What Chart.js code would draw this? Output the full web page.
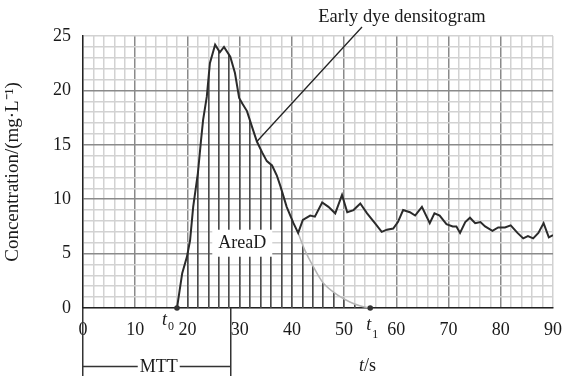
<!DOCTYPE html>
<html>
<head>
<meta charset="utf-8">
<script src="https://cdn.jsdelivr.net/npm/chart.js@4"></script>
<style>
  html, body { margin: 0; padding: 0; background: #fff; }
  #wrap { width: 563px; height: 379px; }
</style>
</head>
<body>
<div id="wrap"><canvas id="chart"></canvas></div>
<script>
// measured densitogram (s, mg/L)
const timeS = [18, 19, 19.9, 20.5, 21.1, 22, 22.6, 23, 23.7, 24.3, 25.3, 26.2, 27, 28.2, 29.1, 29.9,
  30.5, 31.4, 32.4, 33.3, 34.3, 35.2, 36.2, 37.1, 37.8, 39, 40.3, 41.2, 42.1, 43.5, 44.4, 45.8,
  47, 48.3, 49.6, 50.6, 51.8, 53.1, 54.4, 55.9, 57.2, 58.2, 59.4, 60.3, 61.3, 62.6, 63.6, 64.9,
  66.4, 67.3, 68.3, 69.6, 70.8, 71.5, 72.2, 73.2, 74.1, 75.1, 76.1, 77, 78.4, 79.5, 80.8, 81.9,
  83.2, 84.3, 85.2, 86.2, 87.2, 88.2, 89.2, 90];
const conc = [0, 3.2, 4.7, 6.2, 9.3, 12.4, 15.4, 17.3, 19.4, 22.5, 24.2, 23.5, 24.0, 23.1, 21.6, 19.3,
  18.8, 18.1, 16.6, 15.3, 14.3, 13.5, 13.1, 12.2, 11.2, 9.3, 7.8, 6.9, 8.1, 8.5, 8.4, 9.7,
  9.3, 8.7, 10.4, 8.8, 9.0, 9.6, 8.7, 7.8, 7.0, 7.2, 7.3, 7.9, 9.0, 8.8, 8.5, 9.3,
  7.8, 8.7, 8.5, 7.7, 7.5, 7.5, 6.9, 7.9, 8.3, 7.8, 7.9, 7.5, 7.1, 7.4, 7.4, 7.6,
  6.9, 6.4, 6.6, 6.4, 6.9, 7.8, 6.5, 6.7];

// fitted tail of the first pass
const fitTime = [41.2, 42.5, 44.1, 46, 48.7, 51.1, 53, 55];
const fitConc = [6.9, 5.3, 3.8, 2.3, 1.2, 0.55, 0.2, 0];

const markerTime = [18, 55];      // t0, t1
const markerSub = ['0', '1'];
const mttTime = 28.2;
const leaderTime = 33.3;          // curve point the caption points at
const xMajor = [10, 20, 30, 40, 50, 60, 70, 80];
const yMajor = [5, 10, 15, 20];

const SERIF = '"Liberation Serif", "Times New Roman", serif';
const INK = '#1a1a1a';

function align(chart, px, w) {
  const r = chart.currentDevicePixelRatio;
  const h = w / 2;
  return Math.round((px - h) * r) / r + h;
}

function subLabel(ctx, x, y, main, sub, subDy) {
  ctx.textAlign = 'left';
  ctx.textBaseline = 'alphabetic';
  ctx.font = 'italic 18px ' + SERIF;
  ctx.fillText(main, x, y);
  const w = ctx.measureText(main).width;
  ctx.font = '12px ' + SERIF;
  ctx.fillText(sub, x + w + 1, y + subDy);
}

const extras = {
  id: 'extras',
  beforeDatasetsDraw(chart) {
    const { ctx, chartArea, scales: { x, y } } = chart;
    const curve = chart.getDatasetMeta(0).data;
    const tail = chart.getDatasetMeta(1).data;
    const y0 = y.getPixelForValue(0);
    ctx.save();
    ctx.beginPath();
    ctx.moveTo(curve[0].x, y0);
    curve.forEach((p, i) => { if (timeS[i] <= fitTime[0]) ctx.lineTo(p.x, p.y); });
    tail.forEach(p => ctx.lineTo(p.x, p.y));
    ctx.lineTo(tail[tail.length - 1].x, y0);
    ctx.closePath();
    ctx.clip();
    ctx.strokeStyle = '#4a4a4a';
    ctx.lineWidth = 1.6;
    for (let t = markerTime[0]; t <= markerTime[1]; t += 2) {
      const px = align(chart, x.getPixelForValue(t), 1.6);
      ctx.beginPath();
      ctx.moveTo(px, y0);
      ctx.lineTo(px, chartArea.top);
      ctx.stroke();
    }
    ctx.restore();
  },
  afterDraw(chart) {
    const { ctx, chartArea, scales: { x, y } } = chart;
    const y0 = y.getPixelForValue(0);
    const left = align(chart, chartArea.left, 1.5);
    const mttX = align(chart, x.getPixelForValue(mttTime), 1.5);
    ctx.save();
    ctx.strokeStyle = '#333';
    ctx.fillStyle = INK;
    ctx.lineWidth = 1.5;

    // axis extension and MTT bracket
    ctx.beginPath();
    ctx.moveTo(left, y0); ctx.lineTo(left, 376);
    ctx.moveTo(mttX, y0); ctx.lineTo(mttX, 376);
    ctx.moveTo(left, 366.5); ctx.lineTo(mttX, 366.5);
    ctx.stroke();
    ctx.font = '18px ' + SERIF;
    ctx.textAlign = 'center';
    ctx.textBaseline = 'middle';
    const mid = (left + mttX) / 2 + 2;
    const mw = ctx.measureText('MTT').width;
    ctx.fillStyle = '#fff';
    ctx.fillRect(mid - mw / 2 - 2, 358, mw + 4, 16);
    ctx.fillStyle = INK;
    ctx.fillText('MTT', mid, 367);

    // t/s
    ctx.font = 'italic 18px ' + SERIF;
    ctx.textAlign = 'left';
    ctx.textBaseline = 'alphabetic';
    ctx.fillText('t', 359, 371);
    const tw = ctx.measureText('t').width;
    ctx.font = '18px ' + SERIF;
    ctx.fillText('/s', 359 + tw, 371);

    // t0, t1 markers
    subLabel(ctx, x.getPixelForValue(markerTime[0]) - 15, 325, 't', markerSub[0], 5);
    subLabel(ctx, x.getPixelForValue(markerTime[1]) - 4, 330, 't', markerSub[1], 8);

    // caption and leader line
    const li = timeS.indexOf(leaderTime);
    const lp = chart.getDatasetMeta(0).data[li];
    ctx.lineWidth = 1.3;
    ctx.strokeStyle = '#222';
    ctx.beginPath();
    ctx.moveTo(lp.x, lp.y);
    ctx.lineTo(362, 27);
    ctx.stroke();
    ctx.font = '18.5px ' + SERIF;
    ctx.textAlign = 'center';
    ctx.fillText('Early dye densitogram', 402, 22);

    // AreaD label
    const ax = x.getPixelForValue(30.5);
    const ay = y.getPixelForValue(6);
    ctx.fillStyle = '#fff';
    ctx.fillRect(ax - 30, ay - 13, 60, 27);
    ctx.fillStyle = INK;
    ctx.textBaseline = 'middle';
    ctx.font = '18px ' + SERIF;
    ctx.fillText('AreaD', ax, ay + 1);
    ctx.restore();
  }
};

new Chart(document.getElementById('chart'), {
  type: 'line',
  data: {
    datasets: [
      {
        data: timeS.map((t, i) => ({ x: t, y: conc[i] })),
        borderColor: '#2b2b2b',
        borderWidth: 2,
        pointRadius: 0,
        tension: 0,
        order: 2
      },
      {
        data: fitTime.map((t, i) => ({ x: t, y: fitConc[i] })),
        borderColor: '#b5b5b5',
        borderWidth: 1.5,
        pointRadius: 0,
        tension: 0.3,
        order: 3
      },
      {
        data: markerTime.map(t => ({ x: t, y: 0 })),
        showLine: false,
        pointRadius: 2.8,
        pointBackgroundColor: '#333',
        pointBorderWidth: 0,
        clip: false,
        order: 1
      }
    ]
  },
  plugins: [extras],
  options: {
    responsive: true,
    maintainAspectRatio: false,
    animation: false,
    layout: { padding: { left: 0, top: 36, right: 10, bottom: 0 } },
    plugins: { legend: { display: false }, tooltip: { enabled: false } },
    scales: {
      x: {
        type: 'linear',
        min: 0,
        max: 90,
        afterFit: s => { s.height = 71; s.paddingLeft = 0; s.paddingRight = 0; },
        border: { color: '#222', width: 1.5 },
        grid: {
          drawTicks: false,
          lineWidth: 1.5,
          color: c => xMajor.includes(c.tick.value) ? '#8a8a8a' : '#d2d2d2'
        },
        ticks: {
          stepSize: 2,
          autoSkip: false,
          maxRotation: 0,
          padding: 11,
          color: INK,
          font: { family: SERIF, size: 18 },
          callback: v => (v % 10 === 0 ? String(v) : '')
        }
      },
      y: {
        min: 0,
        max: 25,
        afterFit: s => { s.width = 83; s.paddingTop = 0; s.paddingBottom = 0; },
        border: { color: '#222', width: 1.5 },
        grid: {
          drawTicks: false,
          lineWidth: 1.5,
          color: c => yMajor.includes(c.tick.value) ? '#8a8a8a' : '#d2d2d2'
        },
        ticks: {
          stepSize: 1,
          autoSkip: false,
          padding: 12,
          color: INK,
          font: { family: SERIF, size: 18 },
          callback: v => (v % 5 === 0 ? String(v) : '')
        },
        title: {
          display: true,
          text: 'Concentration/(mg·L⁻¹)',
          color: INK,
          font: { family: SERIF, size: 19 },
          padding: { top: 2, bottom: 0 }
        }
      }
    }
  }
});
</script>
</body>
</html>
